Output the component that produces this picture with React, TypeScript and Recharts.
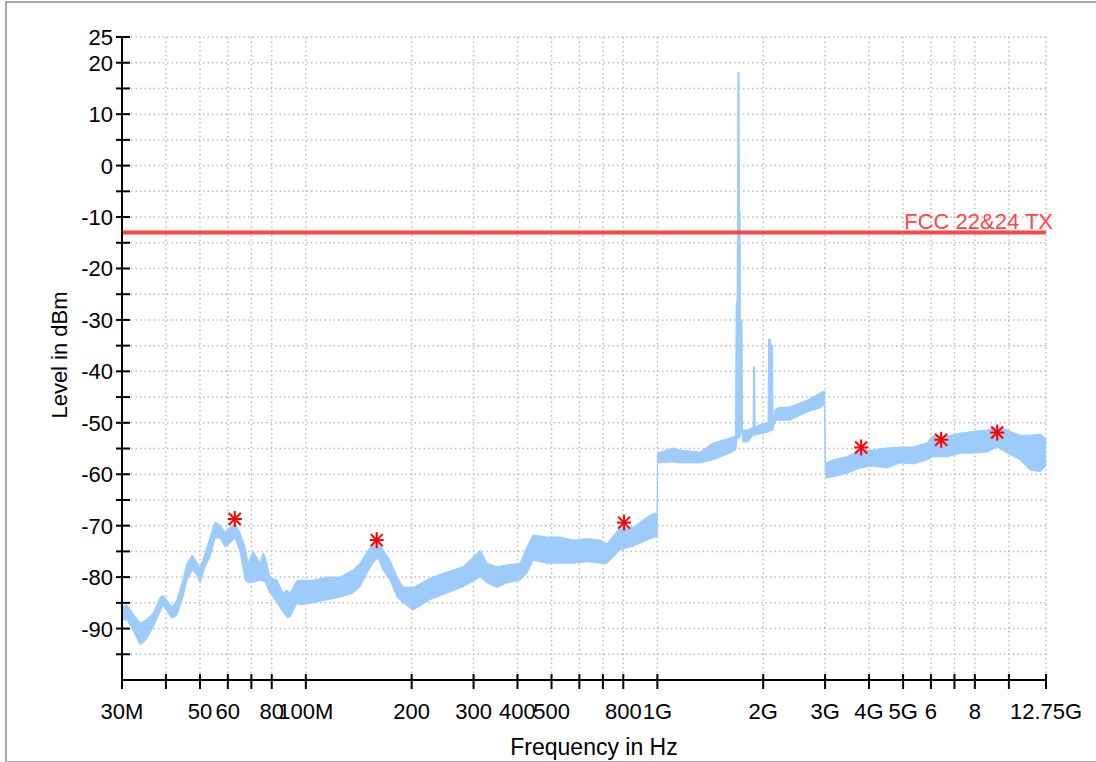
import React from 'react';
import { ComposedChart, Area, Scatter, XAxis, YAxis, CartesianGrid, ReferenceLine, Label } from 'recharts';

// measured spectrum, read as an envelope (low / high edge of the noisy trace)
const freqMHz = [
  30.0, 31.0, 32.2, 33.8, 35.1, 36.8, 38.5, 39.2, 40.6, 41.6, 43.0, 44.7, 45.9, 47.5, 49.0, 50.0,
  51.7, 53.4, 55.2, 57.0, 58.9, 60.9, 62.9, 65.0, 67.2, 68.5, 70.8, 74.1, 75.6, 76.6, 79.1, 82.8, 86.1,
  88.4, 90.2, 94.4, 96.3, 104.8, 114.9, 125.1, 136.3, 142.6, 149.3, 155.3, 160.5, 165.8, 173.6,
  181.8, 189.1, 201.9, 225.6, 252.2, 280.1, 313.1, 327.8, 350.0, 373.7, 406.9, 426.0, 443.0,
  485.6, 528.8, 575.8, 631.1, 687.2, 719.5, 783.4, 853.0, 935.0, 985.3, 999,
  1001, 1108.6, 1160.6, 1322.9, 1440.5, 1610.1, 1669, 1675, 1686, 1690, 1695, 1707, 1711, 1719,
  1722, 1742, 1746, 1811.8, 1872.2, 1878, 1891, 1897, 1999, 2065, 2072, 2092.6, 2113, 2127, 2134,
  2162, 2191, 2386, 2667, 2904, 2990,
  3005, 3162, 3465, 3774, 4110, 4504, 4905, 5341, 5854, 6088, 6673, 7266, 7911, 8671, 9259, 9885,
  10765, 11494, 12273, 12750,
];
const lowDbm = [
  -88.3, -88.3, -90.3, -93.2, -92.2, -89.7, -86.8, -85.4, -87.0, -88.0, -87.4, -83.9, -80.6, -78.6, -79.6, -81.1,
  -78.0, -76.1, -72.4, -72.4, -74.1, -73.4, -72.4, -75.1, -80.6, -81.1, -81.0, -80.6, -80.8, -81.0, -83.1, -85.0, -86.8,
  -87.8, -87.8, -85.0, -85.4, -85.0, -84.4, -83.9, -83.1, -81.9, -79.2, -77.3, -76.3, -78.6, -80.6,
  -83.9, -85.0, -86.4, -84.4, -83.1, -81.9, -80.0, -81.1, -82.0, -81.1, -80.6, -79.2, -76.7,
  -77.3, -77.3, -77.3, -77.0, -77.3, -77.3, -74.7, -74.0, -72.8, -72.2, -72.2,
  -57.8, -57.6, -57.8, -57.8, -57.2, -55.9, -55.3, -55.0, -53.0, -53.0, -53.0, -53.0, -53.0, -52.5,
  -52.5, -51.0, -53.7, -53.7, -52.4, -52.4, -52.4, -52.4, -52.0, -51.8, -51.8, -51.5, -51.5, -51.5, -51.0,
  -49.8, -49.5, -49.5, -47.9, -47.1, -46.5,
  -60.7, -60.5, -59.8, -58.8, -58.4, -58.8, -57.8, -58.0, -57.2, -56.6, -56.6, -55.9, -55.9, -55.7, -54.7, -55.9,
  -57.2, -59.2, -59.5, -58.4,
];
const highDbm = [
  -85.8, -85.4, -87.0, -88.9, -88.3, -87.0, -83.9, -83.5, -84.8, -85.8, -84.4, -80.5, -77.3, -75.7, -77.1, -78.2,
  -75.3, -72.2, -69.3, -69.9, -71.2, -70.4, -69.5, -71.4, -74.1, -77.3, -75.0, -77.3, -75.3, -76.0, -80.0, -80.6, -83.1,
  -82.5, -83.1, -80.6, -80.6, -80.6, -80.0, -80.0, -78.6, -77.3, -75.1, -73.4, -72.5, -74.7, -76.7,
  -80.0, -81.9, -82.0, -80.2, -79.0, -78.0, -74.8, -77.3, -78.0, -77.6, -77.3, -74.1, -71.8,
  -72.2, -72.2, -72.8, -72.5, -72.8, -73.5, -70.3, -70.3, -68.3, -67.5, -68.0,
  -55.9, -54.9, -55.3, -55.7, -53.9, -53.0, -52.5, -27.4, -26.0, -9.0, 18.1, 18.1, -9.0, -9.0,
  -30.0, -30.0, -51.4, -51.4, -50.8, -39.1, -39.1, -50.8, -50.1, -50.0, -33.7, -33.7, -35.0, -35.0, -49.8,
  -47.5, -47.1, -46.9, -45.6, -44.2, -43.8,
  -57.8, -57.2, -56.6, -55.3, -55.3, -54.9, -54.7, -54.7, -53.9, -52.4, -52.6, -52.0, -51.7, -51.4, -50.8, -51.4,
  -52.4, -52.4, -52.2, -53.1,
];

// final peak markers
const peakFreqMHz = [62.8, 159.1, 804, 3799, 6417, 9259];
const peakDbm = [-68.7, -72.8, -69.4, -54.8, -53.3, -51.9];

const limitDbm = -13;
const limitName = 'FCC 22&24 TX';

const xTickHz = [
  30e6, 40e6, 50e6, 60e6, 70e6, 80e6, 100e6, 200e6, 300e6, 400e6, 500e6, 600e6, 700e6, 800e6,
  1e9, 2e9, 3e9, 4e9, 5e9, 6e9, 7e9, 8e9, 10e9, 12.75e9,
];
const xTickLabels = [
  '30M', '', '50', '60', '', '80', '100M', '200', '300', '400', '500', '', '', '800',
  '1G', '2G', '3G', '4G', '5G', '6', '', '8', '', '12.75G',
];
const yTickValues = [25, 20, 15, 10, 5, 0, -5, -10, -15, -20, -25, -30, -35, -40, -45, -50, -55, -60, -65, -70, -75, -80, -85, -90, -95];
const yTickLabels = ['25', '20', '', '10', '', '0', '', '-10', '', '-20', '', '-30', '', '-40', '', '-50', '', '-60', '', '-70', '', '-80', '', '-90', ''];

const spectrum = freqMHz.map((f, i) => ({ f: f * 1e6, range: [lowDbm[i], highDbm[i]] }));
const peaks = peakFreqMHz.map((f, i) => ({ f: f * 1e6, v: peakDbm[i] }));

const FONT = '"Liberation Sans", Arial, Helvetica, sans-serif';
const TRACE = '#9dcbfa';
const LIMIT = '#ff4646';

const YTick = (props: any) => {
  const { x, y, payload } = props;
  const label = yTickLabels[yTickValues.indexOf(payload.value)];
  return (
    <g>
      <line x1={x - 6} x2={x + 8} y1={y} y2={y} stroke="#000" strokeWidth={2} />
      {label ? (
        <text x={x - 9} y={y + 8} textAnchor="end" fontSize={22} fontFamily={FONT} fill="#000">
          {label}
        </text>
      ) : null}
    </g>
  );
};

const XTick = (props: any) => {
  const { x, y, payload } = props;
  const label = xTickLabels[xTickHz.indexOf(payload.value)];
  return (
    <g>
      <line x1={x} x2={x} y1={y - 6} y2={y + 9} stroke="#000" strokeWidth={2} />
      {label ? (
        <text x={x} y={y + 39} textAnchor="middle" fontSize={22} fontFamily={FONT} fill="#000">
          {label}
        </text>
      ) : null}
    </g>
  );
};

const Star = (props: any) => {
  const { cx, cy } = props;
  const r = 8;
  const d = 6;
  return (
    <g stroke="#ff0000" strokeWidth={2}>
      <line x1={cx - 7} x2={cx + 7} y1={cy} y2={cy} />
      <line x1={cx} x2={cx} y1={cy - r} y2={cy + r} />
      <line x1={cx - d} x2={cx + d} y1={cy - d} y2={cy + d} />
      <line x1={cx - d} x2={cx + d} y1={cy + d} y2={cy - d} />
    </g>
  );
};

export default function App() {
  return (
    <div style={{ position: 'fixed', left: 0, top: 0, width: 1096, height: 762, background: '#fff', overflow: 'hidden' }}>
      <div
        style={{
          position: 'absolute', left: 5, top: 1, width: 1110, height: 758,
          border: '2px solid #a8a8a8',
        }}
      />
      <div style={{ position: 'absolute', left: 0, top: 0 }}>
        <ComposedChart width={1096} height={762} data={spectrum} margin={{ top: 37, right: 50, bottom: 0, left: 0 }}>
          <CartesianGrid stroke="#bdbdbd" strokeWidth={1.5} strokeDasharray="1.5 3" />
          <XAxis
            dataKey="f"
            type="number"
            scale="log"
            domain={[30e6, 12.75e9]}
            allowDataOverflow
            ticks={xTickHz}
            interval={0}
            height={82}
            tickSize={0}
            tickMargin={0}
            tickLine={false}
            axisLine={{ stroke: '#000', strokeWidth: 2 }}
            tick={<XTick />}
          >
            <Label
              content={() => (
                <text x={594} y={755} textAnchor="middle" fontSize={23} fontFamily={FONT} fill="#000">
                  Frequency in Hz
                </text>
              )}
            />
          </XAxis>
          <YAxis
            type="number"
            domain={[-100, 25]}
            allowDataOverflow
            ticks={yTickValues}
            interval={0}
            width={122}
            tickSize={0}
            tickMargin={0}
            tickLine={false}
            axisLine={{ stroke: '#000', strokeWidth: 2 }}
            tick={<YTick />}
          >
            <Label
              content={() => (
                <text
                  x={59}
                  y={355}
                  textAnchor="middle"
                  dominantBaseline="central"
                  transform="rotate(-90 59 355)"
                  fontSize={22}
                  fontFamily={FONT}
                  fill="#000"
                >
                  Level in dBm
                </text>
              )}
            />
          </YAxis>
          <Area
            type="linear"
            dataKey="range"
            stroke={TRACE}
            strokeWidth={1}
            fill={TRACE}
            fillOpacity={1}
            dot={false}
            activeDot={false}
            isAnimationActive={false}
          />
          <ReferenceLine y={limitDbm} stroke={LIMIT} strokeWidth={4}>
            <Label
              content={(p: any) => {
                const vb = p.viewBox || { x: 122, y: 232, width: 924 };
                return (
                  <text x={vb.x + vb.width + 7} y={vb.y - 3} textAnchor="end" fontSize={22} fontFamily={FONT} fill={LIMIT}>
                    {limitName}
                  </text>
                );
              }}
            />
          </ReferenceLine>
          <Scatter data={peaks} dataKey="v" shape={<Star />} isAnimationActive={false} />
        </ComposedChart>
      </div>
    </div>
  );
}
